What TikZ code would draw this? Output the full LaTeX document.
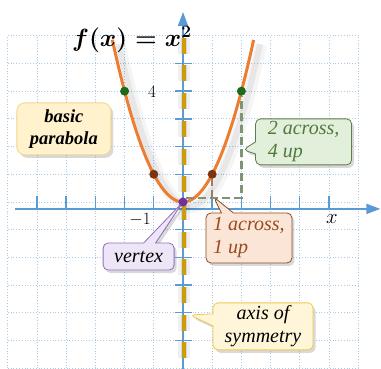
\documentclass[tikz,border=0pt]{standalone}
\usepackage{fontspec}
\setmainfont{Liberation Serif}
\usetikzlibrary{arrows.meta,shapes.callouts,shadows}
\definecolor{gridblue}{HTML}{A9CBEA}
\definecolor{axisblue}{HTML}{5B9BD5}
\definecolor{symgold}{HTML}{CC9C0A}
\definecolor{curveorange}{HTML}{ED7D31}
\definecolor{ptgreen}{HTML}{1B6B1B}
\definecolor{ptbrown}{HTML}{7A3510}
\definecolor{ptpurple}{HTML}{7030A0}
\definecolor{ylwfill}{HTML}{FFF2CC}
\definecolor{ylwdraw}{HTML}{F3D58C}
\definecolor{grnfill}{HTML}{E2EFDA}
\definecolor{grndraw}{HTML}{5E7E4E}
\definecolor{grntext}{HTML}{4F7A3A}
\definecolor{brnfill}{HTML}{FBE5D6}
\definecolor{brndraw}{HTML}{8B4A2B}
\definecolor{brntext}{HTML}{9A4A1E}
\definecolor{purfill}{HTML}{EEE6F6}
\definecolor{purdraw}{HTML}{8E6FC0}
\definecolor{symfill}{HTML}{FFF6D9}
\definecolor{symdraw}{HTML}{F2C84B}
\definecolor{dashgrn}{HTML}{7F9470}
\definecolor{dashbrn}{HTML}{A07A68}
\tikzset{
  gridline/.style={gridblue, line width=0.8pt, dotted},
  axisline/.style={axisblue, line width=1.6pt},
  tickline/.style={axisblue, line width=1.4pt},
  dotnode/.style={circle, inner sep=0pt, minimum size=9pt},
  ticklabel/.style={font=\fontsize{16}{18}\selectfont, inner sep=0pt},
  xlabelfont/.style={font=\fontsize{20}{22}\selectfont, inner sep=0pt},
  titlefont/.style={font=\fontsize{24}{28}\selectfont\boldmath, inner sep=0pt},
  callbase/.style={rectangle callout, rounded corners=5pt, line width=0.8pt,
    drop shadow={opacity=0.3, shadow xshift=2.5pt, shadow yshift=-3pt},
    font=\fontsize{20}{23}\selectfont\itshape, callout pointer width=12pt,
    inner xsep=4pt, inner ysep=2pt},
  acrossdash/.style={line width=2.6pt, dash pattern=on 8pt off 4pt}
}
\begin{document}
\begin{tikzpicture}[x=29.2pt,y=27.7pt]
\useasboundingbox (-6.267,-6.0) rectangle (6.781,7.292);
% grid
\foreach \i in {-6,...,6} {
  \draw[gridline] (\i,-6) -- (\i,6);
  \draw[gridline] (-6,\i) -- (6,\i);
}
% axes
\coordinate (xa0) at (-5.75,-0.25);
\coordinate (xa1) at (6.76,-0.25);
\coordinate (ya0) at (0,-6.1);
\coordinate (ya1) at (0,6.86);
\draw[axisline, -{Triangle[length=14pt,width=10pt]}] (xa0) -- (xa1);
\draw[axisline, -{Triangle[length=14pt,width=10pt]}] (ya0) -- (ya1);
\foreach \i in {-5,...,-1,1,2,...,5} {
  \draw[tickline] (\i,-0.25) -- (\i,0.22);
  \draw[tickline] (-0.28,\i) -- (0.3,\i);
}
% curve shadow
\draw[black, opacity=0.04, line width=12pt, shift={(0.25,-0.18)}] plot[domain=-2.42:2.42, samples=80, smooth] (\x,{\x*\x});
\draw[black, opacity=0.06, line width=6pt, shift={(0.22,-0.15)}] plot[domain=-2.42:2.42, samples=80, smooth] (\x,{\x*\x});
% curve
\draw[curveorange, line width=3pt] plot[domain=-2.42:2.42, samples=100, smooth] (\x,{\x*\x});
% axis of symmetry
\coordinate (s0) at (0.03,5.93);
\coordinate (s1) at (0.03,-6.1);
\draw[black, opacity=0.06, line width=12pt, dash pattern=on 16pt off 11.7pt, shift={(0.45,-0.12)}] (s0) -- (s1);
\draw[black, opacity=0.1, line width=6pt, dash pattern=on 16pt off 11.7pt, shift={(0.4,-0.1)}] (s0) -- (s1);
\draw[symgold, line width=3.6pt, dash pattern=on 16pt off 11.7pt] (s0) -- (s1);
% points
\node[dotnode, fill=ptgreen] (g1) at (-2,4) {};
\node[dotnode, fill=ptgreen] (g2) at (2,4) {};
\node[dotnode, fill=ptbrown] (b1) at (-1,1) {};
\node[dotnode, fill=ptbrown] (b2) at (1,1) {};
% across dashes
\coordinate (h0) at (0.1,0.15);
\coordinate (h1) at (1,0.15);
\coordinate (h2) at (2,0.15);
\draw[acrossdash, dashgrn] (h0) -- (h2) -- (g2.south);
\draw[acrossdash, dashbrn] (h1) -- (b2.south);
% callout targets
\coordinate (t2) at (2.05,1.88);
\coordinate (t1) at (1.05,0.18);
\coordinate (tv) at (0,0);
\coordinate (ts) at (0.24,-4.08);
% labels
\node[draw=ylwdraw, fill=ylwfill, rounded corners=8pt, line width=0.8pt,
  drop shadow={opacity=0.3, shadow xshift=2.5pt, shadow yshift=-3pt},
  font=\fontsize{18.5}{22}\selectfont\bfseries\itshape, align=center,
  minimum width=94pt, minimum height=52pt, inner sep=2pt] (basic) at (-4.08,2.64) {basic\\parabola};
\node[callbase, draw=grndraw, fill=grnfill, text=grntext, align=left,
  minimum width=96pt, minimum height=46pt, callout absolute pointer={(t2)}] (across2) at (4.13,2.17) {2 across,\\4 up};
\node[callbase, draw=brndraw, fill=brnfill, text=brntext, align=left,
  minimum width=86pt, minimum height=50pt, callout absolute pointer={(t1)}] (across1) at (2.26,-1.30) {1 across,\\1 up};
\node[callbase, draw=purdraw, fill=purfill, align=center,
  minimum width=71pt, minimum height=27pt, callout absolute pointer={(tv)}] (vertex) at (-1.52,-1.97) {vertex};
\node[callbase, draw=symdraw, fill=symfill, align=center,
  minimum width=100pt, minimum height=47pt, callout absolute pointer={(ts)}] (sym) at (2.74,-4.49) {axis of\\symmetry};
\node[dotnode, fill=ptpurple] (v) at (0,0) {};
% tick labels
\node[ticklabel] (lm1) at (-1.47,-0.65) {$-1$};
\node[ticklabel] (l4) at (-1.06,3.97) {$4$};
\node[xlabelfont] (lx) at (5.10,-0.6) {$x$};
% title
\node[titlefont, anchor=base] (ftitle) at (-1.75,5.63) {$f(x) = x^2$};
\end{tikzpicture}
\end{document}
